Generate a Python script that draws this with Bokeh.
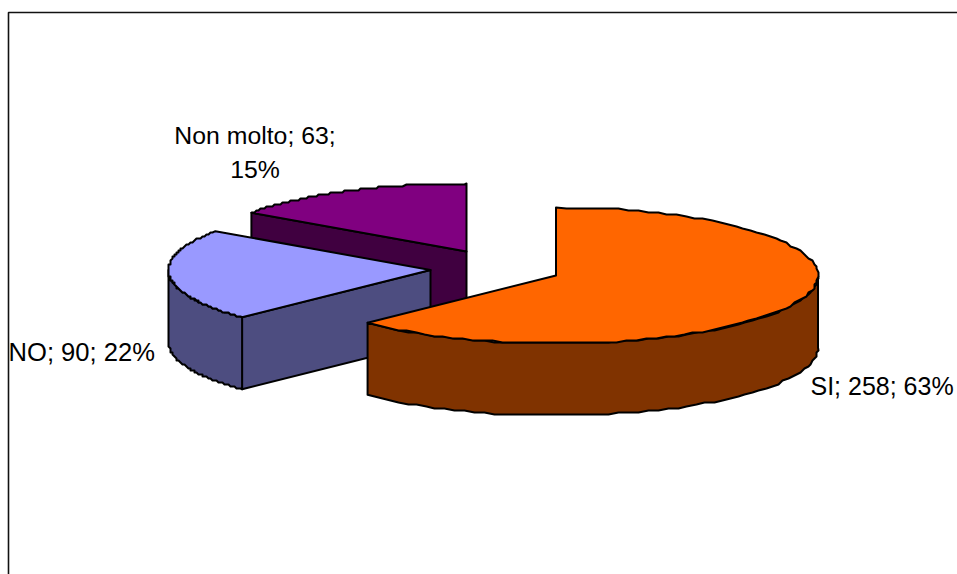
import numpy as np
from bokeh.plotting import figure
from bokeh.models import Range1d
from bokeh.core.properties import value
from bokeh.embed import file_html
from bokeh.resources import INLINE

# data
categories = ["SI", "NO", "Non molto"]
counts = [258, 90, 63]
percents = [63, 22, 15]

# styling
top_colors = ["#FF6600", "#9999FF", "#800080"]
side_colors = ["#803300", "#4D4D80", "#400040"]
centers = [(555.5, 275.0), (430.0, 269.5), (466.0, 251.0)]
RX, RY, DEPTH = 262.0, 68.0, 72.0
W, H = 957, 574
GRID = 2.0


def rough(a):
    return np.round(np.asarray(a) / GRID) * GRID


def ell(c, t):
    return c[0] + RX * np.sin(t), c[1] - RY * np.cos(t)


p = figure(width=W, height=H, output_backend="svg", toolbar_location=None,
           x_range=Range1d(0, W), y_range=Range1d(H, 0),
           min_border=0, outline_line_color=None,
           background_fill_color="white", border_fill_color="white")
p.xaxis.visible = False
p.yaxis.visible = False
p.grid.visible = False

# chart-area frame: only top and left edges fall in the picture
p.line([8, 8, W], [H, 12, 12], line_color="#111111", line_width=1.6)

fractions = np.array(counts, dtype=float) / sum(counts)
stops = np.concatenate([[0.0], np.cumsum(fractions)]) * 2 * np.pi

line = dict(line_color="black", line_width=2.0, line_join="round")

# back-to-front: Non molto, NO, SI
for i in [2, 1, 0]:
    c = centers[i]
    t0, t1 = stops[i], stops[i + 1]

    # flat cut faces that look toward the viewer
    for t, visible in ((t0, np.sin(t0) < -1e-6), (t1, np.sin(t1) > 1e-6)):
        if visible:
            ex, ey = ell(c, t)
            p.patch([c[0], ex, ex, c[0]], [c[1], ey, ey + DEPTH, c[1] + DEPTH],
                    fill_color=side_colors[i], **line)

    # outer wall on the front half of the ellipse
    a, b = max(t0, np.pi / 2), min(t1, 3 * np.pi / 2)
    if b > a:
        tt = np.linspace(a, b, 60)
        ex, ey = ell(c, tt)
        ex, ey = rough(ex), rough(ey)
        ex[0], ey[0] = ell(c, a)
        ex[-1], ey[-1] = ell(c, b)
        p.patch(np.r_[ex, ex[::-1]], np.r_[ey, ey[::-1] + DEPTH],
                fill_color=side_colors[i], **line)

    # top surface
    tt = np.linspace(t0, t1, 100)
    ex, ey = ell(c, tt)
    ex, ey = rough(ex), rough(ey)
    ex[0], ey[0] = ell(c, t0)
    ex[-1], ey[-1] = ell(c, t1)
    p.patch(np.r_[c[0], ex], np.r_[c[1], ey], fill_color=top_colors[i], **line)

# data labels
font = dict(text_font=value("Liberation Sans"), text_color="black", text_baseline="middle")
p.text([810], [385], text=[f"{categories[0]}; {counts[0]}; {percents[0]}%"],
       text_align="left", text_font_size="25px", **font)
p.text([8], [351], text=[f"{categories[1]}; {counts[1]}; {percents[1]}%"],
       text_align="left", text_font_size="25.6px", **font)
p.text([254.5], [135], text=[f"{categories[2]}; {counts[2]};"],
       text_align="center", text_font_size="24.8px", **font)
p.text([254.5], [169], text=[f"{percents[2]}%"],
       text_align="center", text_font_size="24.8px", **font)

open("out.html", "w").write(file_html(p, INLINE))
